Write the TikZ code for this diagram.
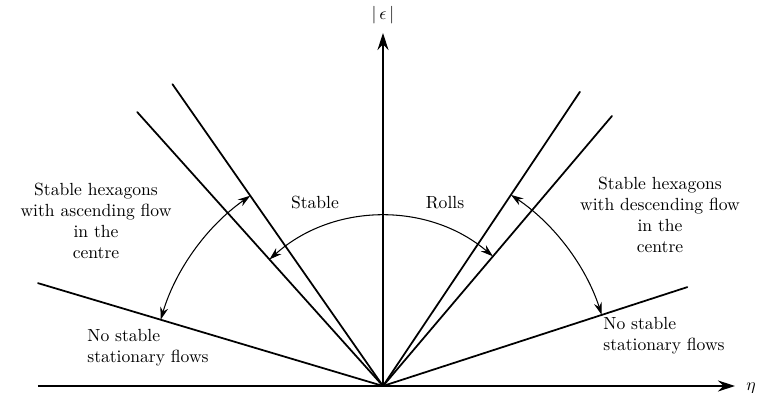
\documentclass[tikz,border=0pt]{standalone}
\usetikzlibrary{arrows.meta, positioning}
\tikzset{
  ray/.style={line width=1pt, line cap=round},
  axis/.style={-{Stealth[length=3.4mm, width=2.2mm]}, semithick},
  span/.style={{Stealth[length=2.5mm, width=1.6mm]}-{Stealth[length=2.5mm, width=1.6mm]}, semithick},
  lbl/.style={align=center, inner sep=0pt},
  llbl/.style={align=left, inner sep=0pt},
}
\begin{document}
\begin{tikzpicture}
        \useasboundingbox (-7.66,-0.14) rectangle (7.48,7.72);
        % origin and axes
        \coordinate (o) at (0,0);
        \coordinate (etastart) at (-6.9,0);
        \coordinate (etaend) at (7.04,0);
        \coordinate (epsend) at (0,7.06);
        \draw[axis] (etastart) -- (etaend);
        \draw[axis] (o) -- (epsend);
        \node (eta) at (7.36,-0.04) {$\eta$};
        \node (eps) at (0,7.42) {$|\,\epsilon\,|$};
        % boundary rays
        \coordinate (lowl) at (163.4:7.2);
        \coordinate (hexa) at (124.9:7.36);
        \coordinate (rollb) at (131.9:7.36);
        \coordinate (hexc) at (56.2:7.08);
        \coordinate (rolld) at (49.7:7.08);
        \coordinate (lowr) at (18.0:6.4);
        \draw[ray] (o) -- (lowl);
        \draw[ray] (o) -- (hexa);
        \draw[ray] (o) -- (rollb);
        \draw[ray] (o) -- (hexc);
        \draw[ray] (o) -- (rolld);
        \draw[ray] (o) -- (lowr);
        % ranges of stability
        \coordinate (arcl) at (163.4:4.64);
        \coordinate (arcm) at (131.9:3.4);
        \coordinate (arcr) at (56.2:4.6);
        \draw[span] (arcl) arc[start angle=163.4, end angle=124.9, radius=4.64];
        \draw[span] (arcm) arc[start angle=131.9, end angle=49.7, radius=3.4];
        \draw[span] (arcr) arc[start angle=56.2, end angle=18.0, radius=4.6];
        % labels
        \node[lbl] (hexup) at (-5.74,3.3) {Stable hexagons\\with ascending flow\\in the\\centre};
        \node[lbl] (hexdown) at (5.54,3.42) {Stable hexagons\\with descending flow\\in the\\centre};
        \node[lbl] (stab) at (-1.36,3.66) {Stable};
        \node[lbl] (rolls) at (1.24,3.66) {Rolls};
        \node[llbl, anchor=west] (nonel) at (-5.92,0.76) {No stable\\stationary flows};
        \node[llbl, anchor=west] (noner) at (4.4,1.0) {No stable\\stationary flows};
      \end{tikzpicture}
\end{document}
